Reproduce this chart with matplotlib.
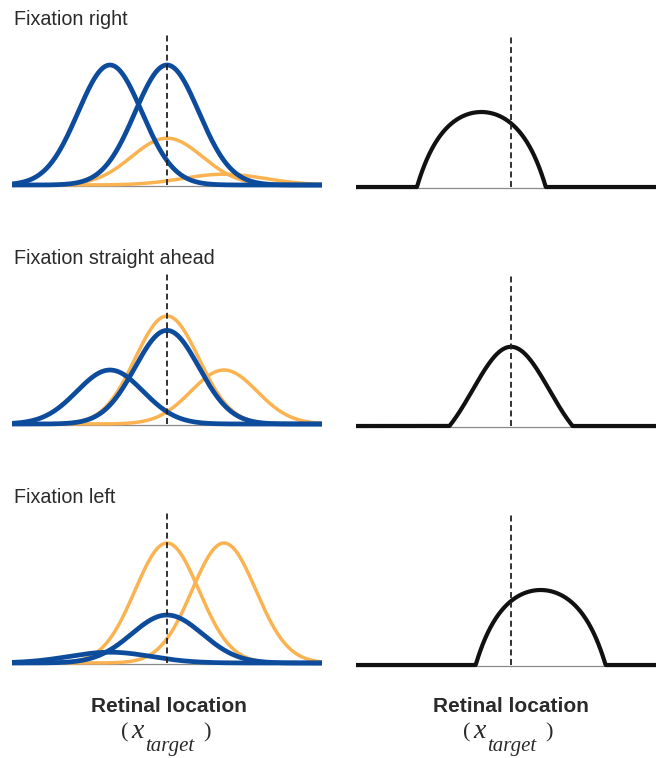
import numpy as np
import matplotlib
matplotlib.use("Agg")
import matplotlib.pyplot as plt

# ---------------- data ----------------
row_titles = ["Fixation right", "Fixation straight ahead", "Fixation left"]
xlabel_text = "Retinal location"

# unit positions (relative to x_target = 0)
blue_centers = [-1.0, 0.0]
orange_centers = [0.0, 1.0]

blue_gains = [[1.00, 1.00], [0.45, 0.78], [0.09, 0.40]]
blue_sigmas = [[0.56, 0.56], [0.58, 0.56], [0.72, 0.62]]
orange_gains = [[0.39, 0.09], [0.90, 0.45], [1.00, 1.00]]
orange_sigmas = [[0.62, 0.72], [0.56, 0.58], [0.56, 0.56]]

# right-hand humps
hump_centers = [-0.52, 0.0, 0.52]
hump_halfwidths = [1.13, 1.08, 1.14]
hump_heights = [0.625, 0.66, 0.625]
hump_shapes = [-0.8, 1.3, -0.8]

target_x = 0.0
dash_top = 1.25

# ---------------- style ----------------
W, H = 656, 758
BLUE = "#0d4c9c"
ORANGE = "#fab350"
TEXT = "#2a2a2a"

fig = plt.figure(figsize=(W / 100, H / 100), dpi=100)

px_per_unit_x = 57.0
px_per_unit_y = 120.0
xlim = (-2.72, 2.72)
ylim = (-0.05, 1.30)
ax_w = (xlim[1] - xlim[0]) * px_per_unit_x
ax_h = (ylim[1] - ylim[0]) * px_per_unit_y

left_centers_px = 167
right_centers_px = 511
left_baselines = [185, 424, 663]
right_baselines = [187, 426, 665]
title_baselines = [25, 264, 503]

x = np.linspace(xlim[0], xlim[1], 800)


def make_ax(cx, base):
    left = cx + xlim[0] * px_per_unit_x
    bottom_px = base - ylim[0] * px_per_unit_y  # pixel from top
    ax = fig.add_axes([left / W, 1 - bottom_px / H, ax_w / W, ax_h / H])
    ax.set_xlim(*xlim)
    ax.set_ylim(*ylim)
    ax.axis("off")
    return ax


def gauss(xx, c, g, s):
    return g * np.exp(-(xx - c) ** 2 / (2 * s ** 2))


def hump(xx, c, w, h, u):
    d = np.clip((xx - c) / w, -1, 1)
    y = (np.exp(-u * d ** 2) - np.exp(-u)) / (1 - np.exp(-u))
    y[np.abs(xx - c) >= w] = 0
    return h * y


for r in range(3):
    # left panel
    ax = make_ax(left_centers_px, left_baselines[r])
    ax.plot([xlim[0] + 0.02, xlim[1] - 0.02], [-0.012, -0.012], color="#8a8a8a", lw=0.9, zorder=1)
    for c, g, s in zip(orange_centers, orange_gains[r], orange_sigmas[r]):
        ax.plot(x, gauss(x, c, g, s), color=ORANGE, lw=2.5, solid_capstyle="round", zorder=2)
    for c, g, s in zip(blue_centers, blue_gains[r], blue_sigmas[r]):
        ax.plot(x, gauss(x, c, g, s), color=BLUE, lw=3.4, solid_capstyle="round", zorder=3)
    ax.plot([target_x, target_x], [0, dash_top], color="#222222", lw=1.3,
            linestyle=(0, (3.3, 2.0)), zorder=4)

    # right panel
    ax2 = make_ax(right_centers_px, right_baselines[r])
    ax2.plot([xlim[0], xlim[1]], [-0.012, -0.012], color="#8a8a8a", lw=0.9, zorder=1)
    ax2.plot(x, hump(x, hump_centers[r], hump_halfwidths[r], hump_heights[r], hump_shapes[r]),
             color="#111111", lw=3.0, zorder=3)
    ax2.plot([target_x, target_x], [0, dash_top], color="#222222", lw=1.3,
             linestyle=(0, (3.3, 2.0)), zorder=4)

    fig.text(14 / W, 1 - title_baselines[r] / H, row_titles[r], ha="left", va="baseline",
             fontsize=14.2, family="Liberation Sans", color=TEXT)

# x labels
for cx in (169, 511):
    fig.text(cx / W, 1 - 712 / H, xlabel_text, ha="center", va="baseline",
             fontsize=15, fontweight="bold", family="Liberation Sans", color=TEXT)
    off = cx - 169
    fig.text((121 + off) / W, 1 - 737 / H, "(", ha="left", va="baseline",
             fontsize=16, family="Liberation Serif", color=TEXT)
    fig.text((131 + off) / W, 1 - 738 / H, "x", ha="left", va="baseline",
             fontsize=20, family="Liberation Serif", style="italic", color=TEXT)
    fig.text((145 + off) / W, 1 - 751 / H, "target", ha="left", va="baseline",
             fontsize=15, family="Liberation Serif", style="italic", color=TEXT)
    fig.text((203 + off) / W, 1 - 737 / H, ")", ha="left", va="baseline",
             fontsize=16, family="Liberation Serif", color=TEXT)

fig.savefig("out.png", dpi=100)
